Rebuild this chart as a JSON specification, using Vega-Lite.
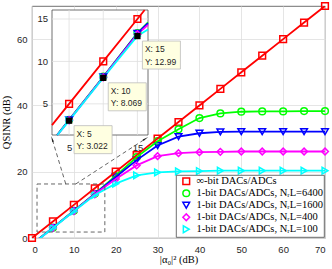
{
  "$schema": "https://vega.github.io/schema/vega-lite/v6.json",
  "width": 293,
  "height": 232,
  "autosize": {"type": "none"},
  "padding": {"left": 32, "top": 6, "right": 7, "bottom": 31},
  "background": "white",
  "config": {
    "view": {"stroke": "#4d4d4d", "strokeWidth": 0.8},
    "axis": {"labelFont": "Liberation Sans", "labelFontSize": 9.5, "labelColor": "#262626", "labelOverlap": false, "gridColor": "#dedede", "gridWidth": 0.8, "gridOpacity": 1, "domain": false, "ticks": false, "titleFont": "Liberation Serif", "titleFontWeight": "normal", "titleFontSize": 10.5, "titleColor": "#000000"},
    "legend": {"fillColor": "white", "strokeColor": "#4d4d4d", "strokeWidth": 0.8, "padding": 1, "labelFont": "Liberation Serif", "labelFontSize": 10.5, "labelColor": "#000000", "rowPadding": -2.2, "labelOffset": 5, "symbolStrokeWidth": 1.5, "symbolSize": 45, "symbolFillColor": "transparent", "labelLimit": 300, "symbolOffset": 4}
  },
  "datasets": {
    "main": [
      {"x": 0, "inf": 0, "6400": -1.9, "1600": -1.9, "400": -2.0, "100": -2.0},
      {"x": 5, "inf": 5, "6400": 3.12, "1600": 3.1, "400": 3.06, "100": 3.022},
      {"x": 10, "inf": 10, "6400": 8.2, "1600": 8.17, "400": 8.12, "100": 8.069},
      {"x": 15, "inf": 15, "6400": 13.35, "1600": 13.3, "400": 13.2, "100": 12.99},
      {"x": 20, "inf": 20, "6400": 18.7, "1600": 18.4, "400": 17.8, "100": 16.4},
      {"x": 25, "inf": 25, "6400": 24.4, "1600": 23.5, "400": 21.9, "100": 18.9},
      {"x": 30, "inf": 30, "6400": 29.2, "1600": 27.9, "400": 24.7, "100": 19.8},
      {"x": 35, "inf": 35, "6400": 32.8, "1600": 30.6, "400": 25.6, "100": 20.1},
      {"x": 40, "inf": 40, "6400": 36.2, "1600": 31.6, "400": 25.9, "100": 20.2},
      {"x": 45, "inf": 45, "6400": 37.6, "1600": 32.0, "400": 26.0, "100": 20.3},
      {"x": 50, "inf": 50, "6400": 38.1, "1600": 32.1, "400": 26.1, "100": 20.3},
      {"x": 55, "inf": 55, "6400": 38.2, "1600": 32.1, "400": 26.1, "100": 20.3},
      {"x": 60, "inf": 60, "6400": 38.2, "1600": 32.1, "400": 26.1, "100": 20.3},
      {"x": 65, "inf": 65, "6400": 38.3, "1600": 32.1, "400": 26.1, "100": 20.3},
      {"x": 70, "inf": 70, "6400": 38.3, "1600": 32.1, "400": 26.1, "100": 20.3}
    ],
    "insetLines": [
      {"s": "inf", "x": 2.5, "y": 2.5}, {"s": "inf", "x": 5, "y": 5}, {"s": "inf", "x": 10, "y": 10}, {"s": "inf", "x": 15, "y": 15}, {"s": "inf", "x": 16.06, "y": 16.06},
      {"s": "6400", "x": 3.25, "y": 1.33}, {"s": "6400", "x": 5, "y": 3.12}, {"s": "6400", "x": 10, "y": 8.2}, {"s": "6400", "x": 15, "y": 13.35}, {"s": "6400", "x": 16.55, "y": 14.6},
      {"s": "1600", "x": 3.25, "y": 1.33}, {"s": "1600", "x": 5, "y": 3.1}, {"s": "1600", "x": 10, "y": 8.17}, {"s": "1600", "x": 15, "y": 13.3}, {"s": "1600", "x": 16.55, "y": 14.5},
      {"s": "400", "x": 3.3, "y": 1.33}, {"s": "400", "x": 5, "y": 3.06}, {"s": "400", "x": 10, "y": 8.12}, {"s": "400", "x": 15, "y": 13.2}, {"s": "400", "x": 16.55, "y": 14.3},
      {"s": "100", "x": 3.3, "y": 1.33}, {"s": "100", "x": 5, "y": 3.022}, {"s": "100", "x": 10, "y": 8.069}, {"s": "100", "x": 15, "y": 12.99}, {"s": "100", "x": 16.55, "y": 13.75}
    ],
    "tips": [
      {"x": 5, "y": 3.022, "tx": "X: 5", "ty": "Y: 3.022"},
      {"x": 10, "y": 8.069, "tx": "X: 10", "ty": "Y: 8.069"},
      {"x": 15, "y": 12.99, "tx": "X: 15", "ty": "Y: 12.99"}
    ],
    "arrows": [
      {"x": 8.06, "y": 16.3, "x2": 4.88, "y2": 29.6},
      {"x": 10.45, "y": 16.3, "x2": 26.95, "y2": 29.8}
    ]
  },
  "layer": [
    {
      "data": {"name": "main"},
      "transform": [{"fold": ["inf", "6400", "1600", "400", "100"], "as": ["s", "y"]}],
      "layer": [
        {
          "transform": [{"filter": {"field": "y", "gte": 0}}],
          "mark": {"type": "point", "filled": false, "size": 45, "strokeWidth": 1.5, "opacity": 1},
          "encoding": {
            "x": {"field": "x", "type": "quantitative", "scale": {"domain": [0, 70], "nice": false}, "axis": {"title": "|α₀|² (dB)", "values": [0, 10, 20, 30, 40, 50, 60, 70], "labelPadding": 6, "titlePadding": 1, "grid": true}},
            "y": {"field": "y", "type": "quantitative", "scale": {"domain": [0, 70], "nice": false}, "axis": {"title": "QSINR (dB)", "values": [0, 10, 20, 30, 40, 50, 60, 70], "labelPadding": 5, "titlePadding": 5, "grid": true}},
            "color": {"field": "s", "type": "nominal", "scale": {"domain": ["inf", "6400", "1600", "400", "100"], "range": ["#ff0000", "#00ff00", "#0000ff", "#ff00ff", "#00ffff"]}, "legend": {"title": null, "orient": "bottom-right", "offset": 1, "labelExpr": "datum.value == 'inf' ? '∞-bit DACs/ADCs' : '1-bit DACs/ADCs, NᵣL=' + datum.value"}},
            "shape": {"field": "s", "type": "nominal", "scale": {"domain": ["inf", "6400", "1600", "400", "100"], "range": ["square", "circle", "triangle-down", "diamond", "triangle-right"]}, "legend": {"title": null, "orient": "bottom-right", "offset": 1, "labelExpr": "datum.value == 'inf' ? '∞-bit DACs/ADCs' : '1-bit DACs/ADCs, NᵣL=' + datum.value"}}
          }
        },
        {
          "mark": {"type": "line", "clip": true, "strokeWidth": 1.8},
          "encoding": {
            "x": {"field": "x", "type": "quantitative"},
            "y": {"field": "y", "type": "quantitative"},
            "color": {"field": "s", "type": "nominal"}
          }
        },
        {
          "data": {"values": [{}]},
          "mark": {"type": "rect", "fill": "transparent", "stroke": "#555555", "strokeWidth": 0.9, "strokeDash": [4, 3]},
          "encoding": {
            "x": {"datum": 1.2, "type": "quantitative"},
            "x2": {"datum": 17.4},
            "y": {"datum": 1.8, "type": "quantitative"},
            "y2": {"datum": 16.3}
          }
        },
        {
          "data": {"name": "arrows"},
          "mark": {"type": "rule", "stroke": "#555555", "strokeWidth": 0.9, "strokeDash": [4, 3]},
          "encoding": {
            "x": {"field": "x", "type": "quantitative"},
            "y": {"field": "y", "type": "quantitative"},
            "x2": {"field": "x2"},
            "y2": {"field": "y2"}
          }
        },
        {
          "data": {"values": [{}]},
          "mark": {"type": "point", "shape": "wedge", "filled": true, "color": "#222222", "size": 50, "angle": 343, "opacity": 1},
          "encoding": {"x": {"datum": 4.88, "type": "quantitative"}, "y": {"datum": 29.6, "type": "quantitative"}}
        },
        {
          "data": {"values": [{}]},
          "mark": {"type": "point", "shape": "wedge", "filled": true, "color": "#222222", "size": 50, "angle": 57, "opacity": 1},
          "encoding": {"x": {"datum": 26.95, "type": "quantitative"}, "y": {"datum": 29.8, "type": "quantitative"}}
        }
      ]
    },
    {
      "layer": [
        {
          "data": {"values": [{}]},
          "mark": {"type": "rect", "fill": "white", "stroke": "#4d4d4d", "strokeWidth": 0.8},
          "encoding": {
            "x": {"datum": 2.5, "type": "quantitative", "scale": {"domain": [2.5, 16.55], "range": [20, 116], "nice": false, "zero": false}, "axis": {"orient": "bottom", "offset": -103, "values": [5, 15], "grid": false, "labelPadding": 7.5, "title": null}},
            "x2": {"datum": 16.55},
            "y": {"datum": 1.33, "type": "quantitative", "scale": {"domain": [1.33, 16.06], "range": [129, 4], "nice": false, "zero": false}, "axis": {"orient": "left", "offset": -20, "values": [5, 10, 15], "grid": false, "labelPadding": 4.5, "title": null}},
            "y2": {"datum": 16.06}
          }
        },
        {
          "data": {"values": [{"g": 5}, {"g": 10}, {"g": 15}]},
          "mark": {"type": "rule", "color": "#dedede", "strokeWidth": 0.8},
          "encoding": {"x": {"field": "g", "type": "quantitative"}, "y": {"datum": 1.33, "type": "quantitative"}, "y2": {"datum": 16.06}}
        },
        {
          "data": {"values": [{"g": 5}, {"g": 10}, {"g": 15}]},
          "mark": {"type": "rule", "color": "#dedede", "strokeWidth": 0.8},
          "encoding": {"y": {"field": "g", "type": "quantitative"}, "x": {"datum": 2.5, "type": "quantitative"}, "x2": {"datum": 16.55}}
        },
        {
          "data": {"name": "insetLines"},
          "mark": {"type": "line", "strokeWidth": 1.8},
          "encoding": {
            "x": {"field": "x", "type": "quantitative"},
            "y": {"field": "y", "type": "quantitative"},
            "color": {"field": "s", "type": "nominal"}
          }
        },
        {
          "data": {"name": "main"},
          "transform": [{"fold": ["inf", "6400", "1600", "400", "100"], "as": ["s", "y"]}, {"filter": {"field": "x", "oneOf": [5, 10, 15]}}],
          "mark": {"type": "point", "filled": false, "size": 45, "strokeWidth": 1.5, "opacity": 1},
          "encoding": {
            "x": {"field": "x", "type": "quantitative"},
            "y": {"field": "y", "type": "quantitative"},
            "color": {"field": "s", "type": "nominal"},
            "shape": {"field": "s", "type": "nominal"}
          }
        },
        {
          "data": {"name": "tips"},
          "mark": {"type": "square", "color": "#000000", "size": 40, "opacity": 1},
          "encoding": {"x": {"field": "x", "type": "quantitative"}, "y": {"field": "y", "type": "quantitative"}}
        },
        {
          "data": {"name": "tips"},
          "mark": {"type": "rect", "width": 38, "height": 28, "xOffset": 24, "yOffset": 19, "fill": "#ffffe1", "stroke": "#bdbdbd", "strokeWidth": 0.8},
          "encoding": {"x": {"field": "x", "type": "quantitative"}, "y": {"field": "y", "type": "quantitative"}}
        },
        {
          "data": {"name": "tips"},
          "mark": {"type": "text", "align": "left", "baseline": "middle", "dx": 7.5, "dy": 13, "font": "Liberation Sans", "fontSize": 8.5, "color": "#262626"},
          "encoding": {"x": {"field": "x", "type": "quantitative"}, "y": {"field": "y", "type": "quantitative"}, "text": {"field": "tx"}}
        },
        {
          "data": {"name": "tips"},
          "mark": {"type": "text", "align": "left", "baseline": "middle", "dx": 7.5, "dy": 25.5, "font": "Liberation Sans", "fontSize": 8.5, "color": "#262626"},
          "encoding": {"x": {"field": "x", "type": "quantitative"}, "y": {"field": "y", "type": "quantitative"}, "text": {"field": "ty"}}
        }
      ]
    }
  ],
  "resolve": {"scale": {"x": "independent", "y": "independent"}}
}
